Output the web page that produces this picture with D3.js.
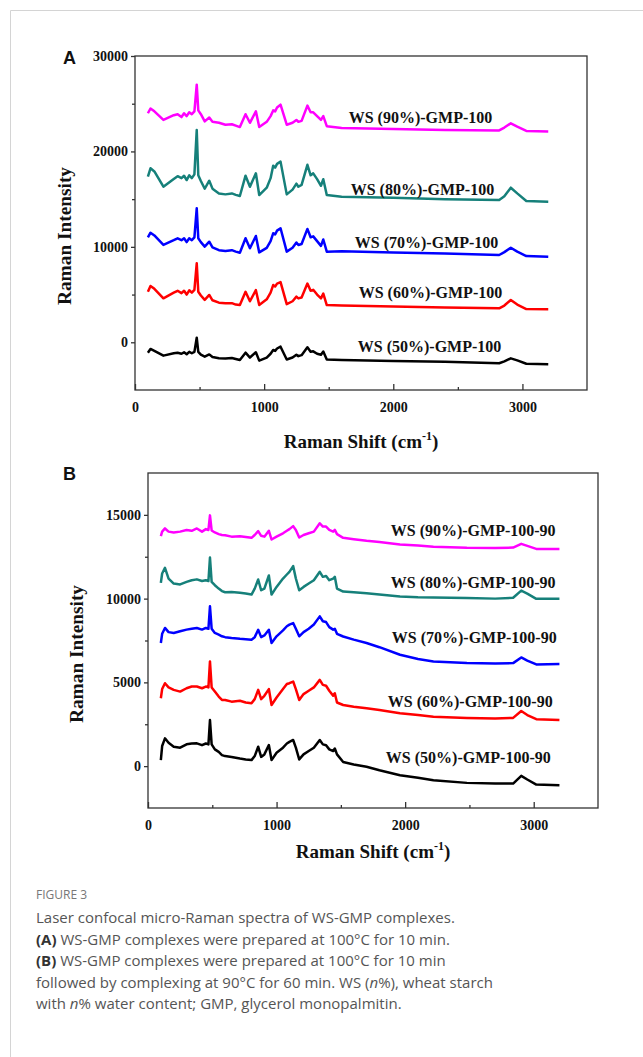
<!DOCTYPE html>
<html>
<head>
<meta charset="utf-8">
<script src="https://cdn.jsdelivr.net/npm/d3@7"></script>
<style>
  body { margin: 0; background: #fff; }
  .serif { font-family: "Liberation Serif", "Times New Roman", serif; font-weight: bold; }
</style>
</head>
<body>
<div id="chart"></div>
<script>
// ---- data ----
const shiftA = [100,120,150,220,300,330,360,380,400,420,440,460,478,490,510,540,575,600,650,700,750,780,812,856,890,936,962,1020,1050,1070,1085,1100,1127,1175,1220,1250,1265,1290,1335,1360,1380,1410,1440,1458,1485,1600,2000,2400,2820,2860,2910,2960,3030,3200];

const ws50A = [-1090,-700,-900,-1400,-1150,-1090,-1200,-1050,-1250,-1000,-1150,-1000,480,-1000,-1300,-1510,-1270,-1550,-1680,-1700,-1650,-1750,-1850,-1090,-1600,-1050,-1920,-1600,-1200,-810,-900,-650,-460,-1800,-1600,-1300,-1450,-1350,-520,-1000,-950,-1200,-1300,-960,-1800,-1850,-1950,-2050,-2200,-2000,-1680,-1900,-2250,-2300];
const ws60A = [5300,5900,5600,4610,5200,5400,5150,5400,5000,5450,5200,5500,8280,5300,4900,4440,4960,4400,4150,4090,4100,3950,3900,5290,4300,5460,3900,4500,5200,6000,5850,6150,6300,4000,4300,4780,4600,4700,6150,5400,5500,5000,4600,5100,3900,3850,3750,3650,3560,3850,4430,3950,3480,3460];
const ws70A = [11000,11480,11200,10200,10700,10900,10700,10900,10500,10900,10700,11000,14040,10900,10500,10020,10540,9950,9650,9570,9650,9500,9390,10900,9850,11140,9420,9900,10600,11420,11300,11700,11950,9500,9900,10450,10200,10300,11880,11000,11100,10600,10100,10770,9500,9550,9420,9300,9150,9450,9910,9500,9040,8970];
const ws80A = [17350,18230,17900,16300,17100,17400,17200,17450,17000,17500,17200,17600,22250,17500,16900,16090,16930,16100,15600,15500,15600,15450,15330,17460,16300,17710,15430,16200,17200,18500,18300,18700,18930,15500,16000,16620,16300,16500,18600,17500,17700,17100,16400,17080,15430,15250,15150,15000,14910,15300,16200,15600,14800,14730];
const ws90A = [24000,24500,24200,23300,23800,23900,23600,24000,23700,24100,23900,24200,27000,24300,23900,23150,23550,23100,23000,22800,22850,22700,22550,23900,23000,24200,22550,23100,23700,24300,24200,24600,24900,22800,23000,23300,23100,23200,24800,24100,24100,23700,23300,23700,22650,22450,22350,22250,22200,22500,22950,22600,22150,22100];

const shiftB = [100,110,132,160,200,250,300,340,380,420,450,470,482,495,520,550,575,600,650,715,760,805,830,857,880,905,940,961,1000,1050,1080,1100,1129,1150,1176,1210,1250,1290,1336,1360,1385,1410,1440,1453,1470,1518,1600,1700,1800,1960,2100,2220,2480,2700,2840,2903,2950,3020,3200];

const ws50B = [360,1200,1660,1400,1160,1100,1300,1350,1360,1250,1350,1300,2750,1300,1000,850,660,600,550,450,400,360,600,1160,550,700,1260,360,800,1100,1350,1450,1560,1100,400,700,900,1100,1560,1300,1250,1000,900,1050,700,250,100,-40,-250,-540,-700,-840,-1000,-1030,-1040,-580,-800,-1100,-1140];
const ws60B = [4050,4600,4950,4700,4550,4450,4650,4750,4750,4650,4750,4700,6250,4700,4450,4150,3950,3950,3850,3900,3800,3750,4000,4550,4000,4200,4600,3650,4100,4600,4900,4950,5050,4600,3950,4300,4500,4700,5150,4850,4800,4500,4200,4350,3800,3650,3550,3450,3350,3160,3050,2950,2880,2850,2880,3290,3050,2800,2750];
const ws70B = [7350,7900,8250,8000,7950,8050,8150,8200,8250,8150,8250,8200,9540,8200,7950,7850,7750,7700,7650,7600,7580,7550,7700,8140,7700,7800,8140,7350,7750,8100,8350,8450,8540,8200,7750,8000,8200,8450,8940,8650,8600,8300,8150,8200,7900,7740,7550,7350,7100,6650,6400,6250,6150,6120,6150,6490,6300,6070,6090];
const ws80B = [10940,11500,11840,11200,10900,10850,11000,11100,11150,11050,11100,11050,12450,11000,10800,10600,10450,10380,10400,10350,10300,10240,10600,11140,10500,10600,11380,10240,10700,11200,11440,11600,11940,11200,10500,10700,10900,11100,11600,11300,11350,11100,11200,11300,10600,10420,10380,10320,10250,10130,10080,10060,10040,10000,10050,10480,10300,9990,9990];
const ws90B = [13730,14000,14190,14000,13950,14000,14100,14050,14190,14000,14150,14100,14970,14070,13950,13850,13800,13780,13700,13730,13680,13630,13800,14030,13750,13700,14050,13530,13700,13900,14050,14150,14330,14100,13650,13800,13900,14000,14500,14300,14300,14100,14000,14100,13850,13630,13550,13450,13380,13230,13170,13100,13030,13020,13050,13270,13150,12970,12970];

const sampleNames = ["WS (50%)", "WS (60%)", "WS (70%)", "WS (80%)", "WS (90%)"];
const sampleColors = ["#000000", "#ff0000", "#0000ff", "#16807a", "#ff00ff"];
const xTicks = [0, 1000, 2000, 3000];
const xMinor = [500, 1500, 2500];
const yTicksA = [0, 10000, 20000, 30000];
const yMinorA = [5000, 15000, 25000];
const yTicksB = [0, 5000, 10000, 15000];
const yMinorB = [2500, 7500, 12500];
// label anchors in data units [shift, intensity]
const labelAtA = [[1725, -1020], [1732, 4640], [1702, 9880], [1670, 15430], [1655, 22980]];
const labelAtB = [[1850, 180], [1865, 3530], [1896, 7370], [1888, 10660], [1888, 13710]];

const W = 643, H = 1057;
const svg = d3.select("#chart").append("svg")
  .attr("width", W).attr("height", H)
  .style("display", "block");

svg.append("rect").attr("width", W).attr("height", H).attr("fill", "#fff");
// card border
svg.append("path")
  .attr("d", `M10.5,${H} V10.5 H${W}`)
  .attr("fill", "none").attr("stroke", "#d4d4d4").attr("stroke-width", 1);

function drawPanel(p) {
  const x = d3.scaleLinear().domain([0, 3500]).range([p.left, p.right]);
  const y = d3.scaleLinear().domain(p.yDomain).range([p.bottom, p.top]);
  const g = svg.append("g");

  const line = d3.line().x(d => x(d[0])).y(d => y(d[1]));
  p.series.forEach((vals, i) => {
    g.append("path")
      .attr("d", line(d3.zip(p.shift, vals)))
      .attr("fill", "none")
      .attr("stroke", sampleColors[i])
      .attr("stroke-width", 2.5)
      .attr("stroke-linejoin", "round");
  });

  // frame
  g.append("rect")
    .attr("x", p.left).attr("y", p.top)
    .attr("width", p.right - p.left).attr("height", p.bottom - p.top)
    .attr("fill", "none").attr("stroke", "#333").attr("stroke-width", 1.3);

  // x axis: ticks point inward
  g.append("g").attr("transform", `translate(0,${p.bottom})`)
    .call(d3.axisBottom(x).tickValues(xTicks).tickSize(-6).tickPadding(12).tickFormat(d3.format("d")));
  g.append("g").attr("transform", `translate(0,${p.bottom})`)
    .call(d3.axisBottom(x).tickValues(xMinor).tickSize(-3).tickFormat(""));
  // y axis: ticks point outward
  g.append("g").attr("transform", `translate(${p.left},0)`)
    .call(d3.axisLeft(y).tickValues(p.yTicks).tickSize(4).tickPadding(3).tickFormat(d3.format("d")));
  g.append("g").attr("transform", `translate(${p.left},0)`)
    .call(d3.axisLeft(y).tickValues(p.yMinor).tickSize(3).tickFormat(""));

  g.selectAll(".domain").remove();
  g.selectAll(".tick line").attr("stroke", "#333").attr("stroke-width", 1.3);
  g.selectAll(".tick text").attr("class", "serif").attr("font-size", 14).attr("fill", "#111");

  // series labels
  p.labelAt.forEach((pos, i) => {
    g.append("text").attr("class", "serif")
      .attr("x", x(pos[0])).attr("y", y(pos[1]))
      .attr("font-size", 16).attr("fill", "#111")
      .text(sampleNames[i] + p.suffix);
  });

  // axis titles
  const xt = g.append("text").attr("class", "serif")
    .attr("x", (p.left + p.right) / 2).attr("y", p.xTitleY)
    .attr("text-anchor", "middle").attr("font-size", 19).attr("fill", "#111");
  xt.append("tspan").text("Raman Shift (cm");
  xt.append("tspan").attr("font-size", 12).attr("dy", -8).text("-1");
  xt.append("tspan").attr("dy", 8).text(")");

  g.append("text").attr("class", "serif")
    .attr("transform", `translate(${p.yTitleX},${p.yTitleY}) rotate(-90)`)
    .attr("text-anchor", "middle").attr("font-size", 18).attr("fill", "#111")
    .attr("textLength", 138).attr("lengthAdjust", "spacingAndGlyphs")
    .text("Raman Intensity");

  g.append("text")
    .attr("x", 63).attr("y", p.letterY)
    .attr("font-family", "'Liberation Sans', Arial, sans-serif")
    .attr("font-weight", "bold").attr("font-size", 18).attr("fill", "#111")
    .text(p.letter);
}

drawPanel({
  left: 135, right: 587, top: 56, bottom: 390,
  yDomain: [-5000, 30000], yTicks: yTicksA, yMinor: yMinorA,
  shift: shiftA, series: [ws50A, ws60A, ws70A, ws80A, ws90A],
  labelAt: labelAtA, suffix: "-GMP-100",
  xTitleY: 448, yTitleX: 71, yTitleY: 236, letter: "A", letterY: 64
});

drawPanel({
  left: 148, right: 598, top: 473, bottom: 808,
  yDomain: [-2500, 17500], yTicks: yTicksB, yMinor: yMinorB,
  shift: shiftB, series: [ws50B, ws60B, ws70B, ws80B, ws90B],
  labelAt: labelAtB, suffix: "-GMP-100-90",
  xTitleY: 858, yTitleX: 83, yTitleY: 654, letter: "B", letterY: 480
});

// caption
const cap = svg.append("g")
  .attr("font-family", "'Open Sans', 'Noto Sans', sans-serif")
  .attr("fill", "#555");
cap.append("text").attr("x", 36).attr("y", 899)
  .attr("font-size", 12).attr("fill", "#777").text("FIGURE 3");

const capLines = [
  [["Laser confocal micro-Raman spectra of WS-GMP complexes.", ""]],
  [["(A)", "b"], [" WS-GMP complexes were prepared at 100°C for 10 min.", ""]],
  [["(B)", "b"], [" WS-GMP complexes were prepared at 100°C for 10 min", ""]],
  [["followed by complexing at 90°C for 60 min. WS (", ""], ["n", "i"], ["%), wheat starch", ""]],
  [["with ", ""], ["n", "i"], ["% water content; GMP, glycerol monopalmitin.", ""]]
];
capLines.forEach((parts, i) => {
  const t = cap.append("text").attr("x", 36).attr("y", 923 + i * 21.6).attr("font-size", 15);
  parts.forEach(([s, st]) => {
    const ts = t.append("tspan").text(s);
    if (st === "b") ts.attr("font-weight", "bold").attr("fill", "#333");
    if (st === "i") ts.attr("font-style", "italic");
  });
});
</script>
</body>
</html>
